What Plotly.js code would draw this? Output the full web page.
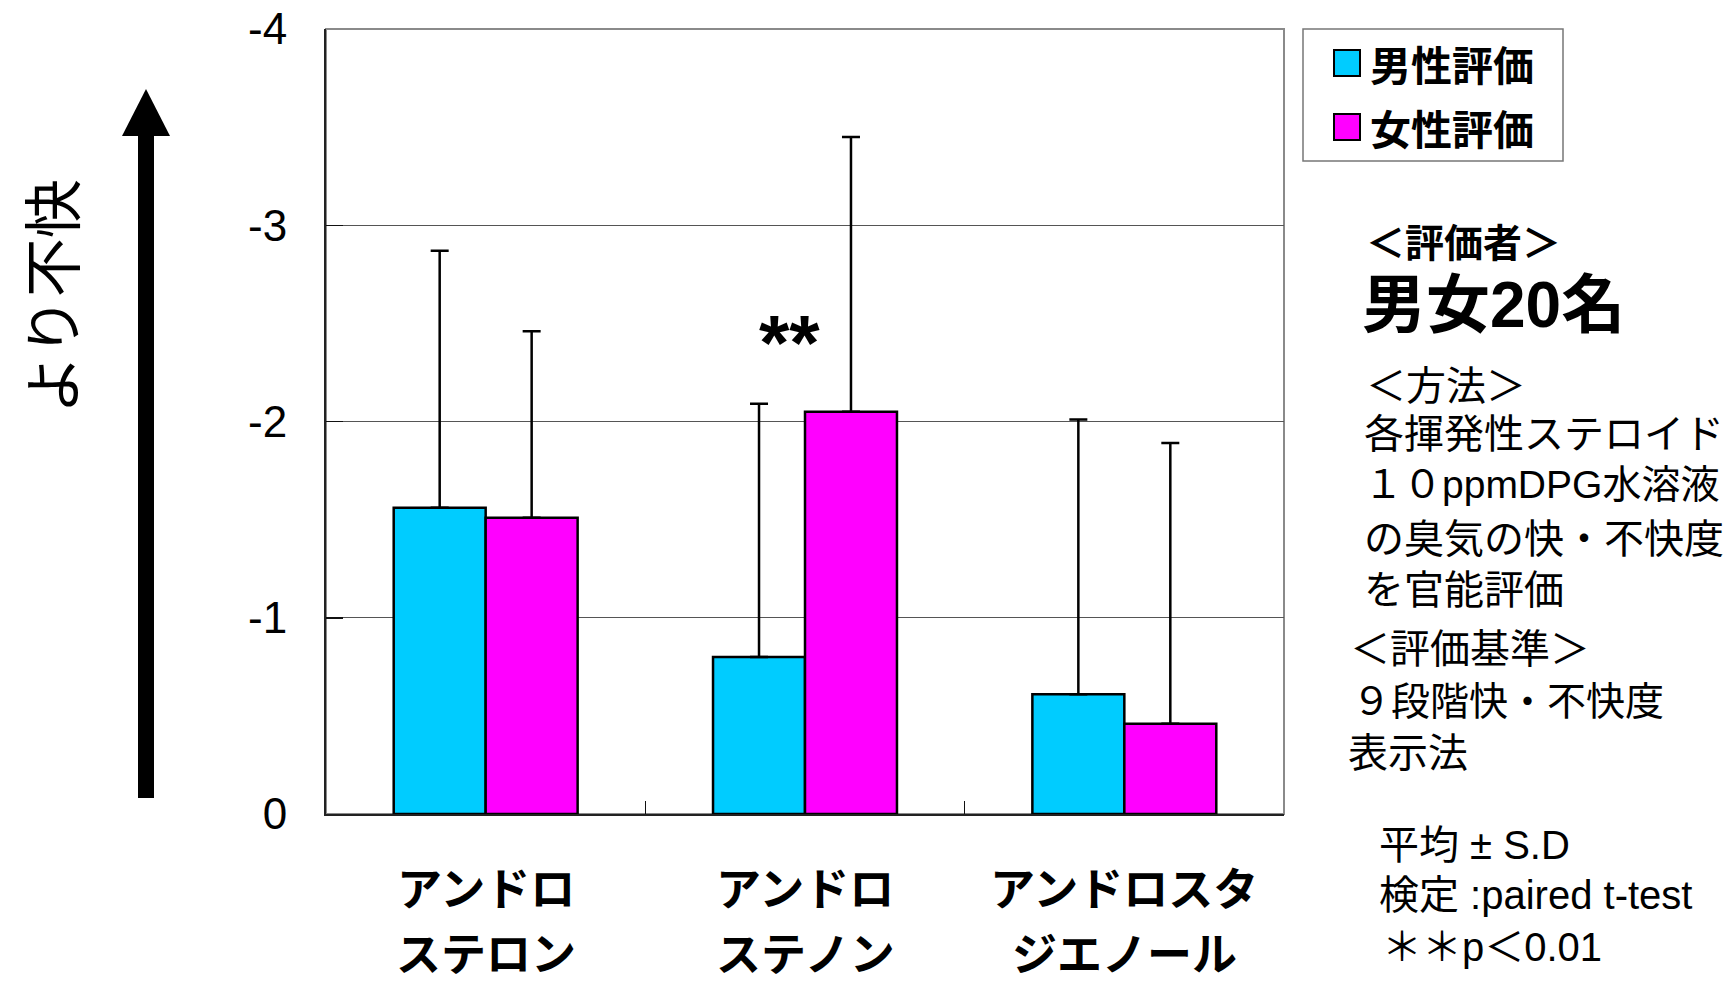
<!DOCTYPE html>
<html>
<head>
<meta charset="utf-8">
<script src="https://cdn.plot.ly/plotly-3.0.1.min.js"></script>
<style>html,body{margin:0;padding:0;background:#fff;}#chart{width:1735px;height:984px;}</style>
</head>
<body>
<div id="chart"></div>
<script>
// ---- data ----
const categories = ['アンドロステロン', 'アンドロステノン', 'アンドロスタジエノール'];
const categoryLine1 = ['アンドロ', 'アンドロ', 'アンドロスタ'];
const categoryLine2 = ['ステロン', 'ステノン', 'ジエノール'];
const seriesNames = ['男性評価', '女性評価'];
const maleMean = [-1.56, -0.80, -0.61];
const maleSD = [1.31, 1.29, 1.40];
const femaleMean = [-1.51, -2.05, -0.46];
const femaleSD = [0.95, 1.40, 1.43];
const yTickVals = [0, -1, -2, -3, -4];
const yTickText = ['0', '-1', '-2', '-3', '-4'];
const yAxisTitle = 'より不快';
const sigMark = '**';
const sideNotes = [
  {text: '＜評価者＞', bold: true, size: 39, x: 1364, y: 243},
  {text: '男女20名', bold: true, size: 64, x: 1360, y: 305},
  {text: '＜方法＞', bold: false, size: 40, x: 1364, y: 386},
  {text: '各揮発性ステロイド', bold: false, size: 40, x: 1362, y: 434},
  {text: '１０ppmDPG水溶液', bold: false, size: 39, x: 1362, y: 484},
  {text: 'の臭気の快・不快度', bold: false, size: 40, x: 1362, y: 539},
  {text: 'を官能評価', bold: false, size: 40, x: 1362, y: 590},
  {text: '＜評価基準＞', bold: false, size: 40, x: 1348, y: 649},
  {text: '９段階快・不快度', bold: false, size: 39, x: 1350, y: 701},
  {text: '表示法', bold: false, size: 40, x: 1346, y: 753},
  {text: '平均 ± S.D', bold: false, size: 40, x: 1377, y: 845},
  {text: '検定 :paired t-test', bold: false, size: 40, x: 1377, y: 895},
  {text: '＊＊p＜0.01', bold: false, size: 40, x: 1380, y: 947}
];
const colors = ['#00CCFF', '#FF00FF'];

// ---- geometry helpers (plot area in pixels) ----
const W = 1735, H = 984;
const PL = 326, PR = 1284, PT = 29, PB = 814;
const px = v => (v - PL) / (PR - PL);
const py = v => (PB - v) / (PB - PT);

const JP = 'Noto Sans CJK JP';
const MIX = 'Liberation Sans, Noto Sans CJK JP';

function barTrace(name, means, sds, color) {
  return {
    type: 'bar', name: name, x: categories, y: means,
    marker: {color: color, line: {color: '#000', width: 2.5}},
    error_y: {type: 'data', symmetric: false, array: means.map(() => 0), arrayminus: sds,
      color: '#000', thickness: 2.5, width: 9},
    showlegend: false, hoverinfo: 'skip'
  };
}

const traces = [
  barTrace(seriesNames[0], maleMean, maleSD, colors[0]),
  barTrace(seriesNames[1], femaleMean, femaleSD, colors[1])
];

const shapes = [
  {type: 'rect', xref: 'paper', yref: 'paper', x0: 0, x1: 1, y0: 0, y1: 1,
   line: {color: '#8a8a8a', width: 2}, layer: 'below'},
  {type: 'rect', xref: 'paper', yref: 'paper', x0: px(138), x1: px(154), y0: py(798), y1: py(134),
   fillcolor: '#000', line: {width: 0}},
  {type: 'path', xref: 'paper', yref: 'paper',
   path: `M ${px(122)} ${py(136)} L ${px(146)} ${py(89)} L ${px(170)} ${py(136)} Z`,
   fillcolor: '#000', line: {width: 0}},
  {type: 'rect', xref: 'paper', yref: 'paper', x0: px(1303), x1: px(1563), y0: py(161), y1: py(29),
   line: {color: '#777', width: 1.5}, fillcolor: 'rgba(0,0,0,0)'}
];

const legendRows = [63, 127];
const annotations = [];
seriesNames.forEach((n, i) => {
  shapes.push({type: 'rect', xref: 'paper', yref: 'paper',
    x0: px(1334), x1: px(1360), y0: py(legendRows[i] + 13), y1: py(legendRows[i] - 13),
    fillcolor: colors[i], line: {color: '#000', width: 2}});
  annotations.push({xref: 'paper', yref: 'paper', x: px(1368), y: py(legendRows[i]),
    xanchor: 'left', yanchor: 'middle', showarrow: false, text: n,
    font: {family: JP, size: 41, color: '#000', weight: 'bold'}});
});

categories.forEach((c, i) => {
  [[categoryLine1[i], 886], [categoryLine2[i], 951]].forEach(([t, yy]) => {
    annotations.push({xref: 'x', yref: 'paper', x: c, y: py(yy),
      xanchor: 'center', yanchor: 'middle', showarrow: false, text: t,
      font: {family: JP, size: 45, color: '#000', weight: 'bold'}});
  });
});

annotations.push({xref: 'paper', yref: 'paper', x: px(49), y: py(297), textangle: -90,
  xanchor: 'center', yanchor: 'middle', showarrow: false, text: yAxisTitle,
  font: {family: JP, size: 59, color: '#000'}});

annotations.push({xref: 'paper', yref: 'paper', x: px(789), y: py(343),
  xanchor: 'center', yanchor: 'middle', showarrow: false, text: sigMark,
  font: {family: 'Liberation Sans', size: 78, color: '#000', weight: 'bold'}});

sideNotes.forEach(n => {
  annotations.push({xref: 'paper', yref: 'paper', x: px(n.x), y: py(n.y),
    xanchor: 'left', yanchor: 'middle', showarrow: false, text: n.text,
    font: {family: MIX, size: n.size, color: '#000', weight: n.bold ? 'bold' : 'normal'}});
});

const layout = {
  width: W, height: H, autosize: false,
  margin: {l: PL, r: W - PR, t: PT, b: H - PB, pad: 0},
  paper_bgcolor: '#fff', plot_bgcolor: '#fff',
  barmode: 'group', bargap: 0.424, bargroupgap: 0,
  showlegend: false,
  xaxis: {
    type: 'category', categoryarray: categories,
    tickson: 'boundaries', ticks: 'inside', ticklen: 13, tickcolor: '#111', tickwidth: 1.5,
    showticklabels: false,
    showgrid: false, showline: true, linecolor: '#222', linewidth: 2, zeroline: false,
    fixedrange: true
  },
  yaxis: {
    range: [0, -4], tickmode: 'array', tickvals: yTickVals, ticktext: yTickText,
    ticks: 'inside', ticklen: 17, tickcolor: '#111', tickwidth: 1.5,
    showgrid: true, gridcolor: '#555', gridwidth: 1,
    showline: true, linecolor: '#222', linewidth: 2, zeroline: false,
    tickfont: {family: 'Liberation Sans', size: 44, color: '#000'},
    ticklabelstandoff: 28, fixedrange: true
  },
  shapes: shapes,
  annotations: annotations
};

Plotly.newPlot('chart', traces, layout, {staticPlot: true, displayModeBar: false});
</script>
</body>
</html>
